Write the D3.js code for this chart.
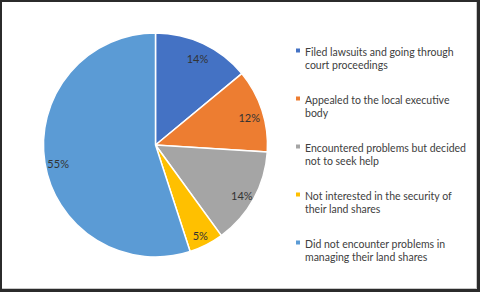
<!DOCTYPE html>
<html>
<head>
<meta charset="utf-8">
<script src="https://cdn.jsdelivr.net/npm/d3@7"></script>
<style>
  body { margin: 0; background: #fff; }
  svg { display: block; }
</style>
</head>
<body>
<div id="chart"></div>
<script>
// chart data
var categories = [
  "Filed lawsuits and going through court proceedings",
  "Appealed to the local executive body",
  "Encountered problems but decided not to seek help",
  "Not interested in the security of their land shares",
  "Did not encounter problems in managing their land shares"
];
var legendLines = [
  ["Filed lawsuits and going through", "court proceedings"],
  ["Appealed to the local executive", "body"],
  ["Encountered problems but decided", "not to seek help"],
  ["Not interested in the security of", "their land shares"],
  ["Did not encounter problems in", "managing their land shares"]
];
var values = [14, 12, 14, 5, 55];
var colors = ["#4472c4", "#ed7d31", "#a5a5a5", "#ffc000", "#5b9bd5"];

var svgWidth = 480;
var svgHeight = 292;

var svg = d3.select("#chart")
  .append("svg")
  .attr("width", svgWidth)
  .attr("height", svgHeight);

// frame
svg.append("rect")
  .attr("x", 0).attr("y", 0)
  .attr("width", svgWidth).attr("height", svgHeight)
  .attr("fill", "#2b2b2b");
svg.append("rect")
  .attr("x", 2).attr("y", 2)
  .attr("width", svgWidth - 5).attr("height", svgHeight - 5)
  .attr("fill", "#c8c8c8");
svg.append("rect")
  .attr("x", 2).attr("y", 2)
  .attr("width", svgWidth - 6).attr("height", svgHeight - 6)
  .attr("fill", "#ffffff");

// pie
var cx = 155.5, cy = 145, radius = 112;

var pie = d3.pie().sort(null).value(d => d);
var arc = d3.arc().innerRadius(0).outerRadius(radius);
var labelArc = d3.arc().innerRadius(radius * 0.88).outerRadius(radius * 0.88);

var pieGroup = svg.append("g")
  .attr("transform", `translate(${cx}, ${cy})`);

var arcs = pie(values);

pieGroup.selectAll("path")
  .data(arcs)
  .enter()
  .append("path")
  .attr("d", arc)
  .attr("fill", (d, i) => colors[i])
  .attr("stroke", "#ffffff")
  .attr("stroke-width", 1.5);

pieGroup.selectAll("text")
  .data(arcs)
  .enter()
  .append("text")
  .attr("transform", d => `translate(${labelArc.centroid(d)})`)
  .attr("text-anchor", "middle")
  .attr("dy", "0.65em")
  .style("font-family", "Lato, 'Open Sans', sans-serif")
  .style("font-size", "11px")
  .attr("fill", "#333333")
  .text(d => d.data + "%");

// legend
var legend = svg.append("g")
  .attr("transform", "translate(296, 52)");

var items = legend.selectAll("g")
  .data(categories)
  .enter()
  .append("g")
  .attr("transform", (d, i) => `translate(0, ${i * 48})`);

items.append("rect")
  .attr("x", 0)
  .attr("y", -3.5)
  .attr("width", 4)
  .attr("height", 4)
  .attr("fill", (d, i) => colors[i]);

items.append("text")
  .style("font-family", "Lato, 'Open Sans', sans-serif")
  .style("font-size", "10.5px")
  .attr("fill", "#404040")
  .selectAll("tspan")
  .data((d, i) => legendLines[i])
  .enter()
  .append("tspan")
  .attr("x", 9)
  .attr("y", (d, j) => j * 13.3 + 4)
  .text(d => d);
</script>
</body>
</html>
